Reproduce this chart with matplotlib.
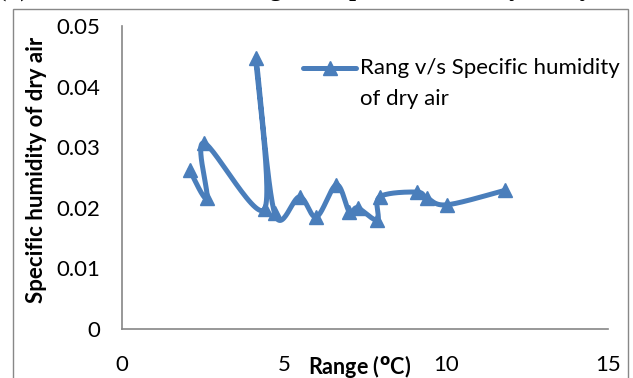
import numpy as np
import matplotlib
matplotlib.use("Agg")
import matplotlib.pyplot as plt
from matplotlib.lines import Line2D
from matplotlib.patches import Rectangle

plt.rcParams['font.family'] = ['Lato', 'DejaVu Sans']

# Data
range_c = [2.09, 2.62, 2.53, 4.40, 4.13, 4.71, 5.48, 6.00, 6.62, 7.02,
           7.27, 7.88, 7.95, 9.09, 9.42, 10.04, 11.83]
spec_hum = [0.0262, 0.0216, 0.0307, 0.0198, 0.0447, 0.0191, 0.0218, 0.0185,
            0.0238, 0.0193, 0.0200, 0.0180, 0.0218, 0.0226, 0.0216, 0.0205,
            0.0229]
x_ticks = [0, 5, 10, 15]
y_ticks = [0, 0.01, 0.02, 0.03, 0.04, 0.05]
y_tick_labels = ['0', '0.01', '0.02', '0.03', '0.04', '0.05']
series_label = 'Rang v/s Specific humidity\nof dry air'

W, H = 633, 378
fig = plt.figure(figsize=(W / 100, H / 100), dpi=100)
ax = fig.add_axes([122 / W, (H - 329) / H, (608 - 122) / W, (329 - 26) / H])
ax.set_xlim(0, 15)
ax.set_ylim(0, 0.05)

color = '#4A7EBB'


def smooth(xs, ys, xr, yr, n=30):
    # Excel-like smoothed line (Catmull-Rom Bezier) computed in normalised screen space
    sx = 486 / xr
    sy = 303 / yr
    P = np.column_stack([np.asarray(xs) * sx, np.asarray(ys) * sy])
    out = []
    m = len(P)
    for i in range(m - 1):
        p0 = P[max(i - 1, 0)]
        p1 = P[i]
        p2 = P[i + 1]
        p3 = P[min(i + 2, m - 1)]
        c1 = p1 + (p2 - p0) / 6
        c2 = p2 - (p3 - p1) / 6
        t = np.linspace(0, 1, n)[:, None]
        seg = ((1 - t) ** 3) * p1 + 3 * ((1 - t) ** 2) * t * c1 + 3 * (1 - t) * t ** 2 * c2 + t ** 3 * p2
        out.append(seg if i == 0 else seg[1:])
    C = np.vstack(out)
    return C[:, 0] / sx, C[:, 1] / sy


cx, cy = smooth(range_c, spec_hum, 15, 0.05)
ax.plot(cx, cy, color=color, lw=3.6, solid_capstyle='round', solid_joinstyle='round', zorder=2)
ax.plot(range_c, spec_hum, linestyle='none', marker='^', markersize=9.5,
        color=color, zorder=3)

for s in ['top', 'right']:
    ax.spines[s].set_visible(False)
for s in ['left', 'bottom']:
    ax.spines[s].set_color('#868686')
    ax.spines[s].set_linewidth(1.2)

ax.set_xticks(x_ticks)
ax.set_xticklabels([str(v) for v in x_ticks])
ax.set_yticks(y_ticks)
ax.set_yticklabels(y_tick_labels)
ax.tick_params(axis='both', length=0, labelsize=16, colors='black')
ax.tick_params(axis='x', pad=19)
ax.tick_params(axis='y', pad=16)

fig.text(360 / W, 1 - 366 / H, r'Range ($\mathbf{^{o}}$C)', ha='center', va='center',
         fontsize=15.5, fontweight='bold')
fig.text(37 / W, 1 - 170 / H, 'Specific humidity of dry air', rotation=90,
         ha='center', va='center', fontsize=16, fontweight='bold')

# legend (handle aligned with the first text line, as in the reference)
handle = Line2D([303 / W, 356 / W], [1 - 68 / H, 1 - 68 / H], transform=fig.transFigure,
                color=color, lw=3.6, solid_capstyle='round')
mark = Line2D([329.5 / W], [1 - 68 / H], transform=fig.transFigure, color=color,
              marker='^', markersize=9.5, linestyle='none')
fig.lines.extend([handle, mark])
fig.text(360 / W, 1 - 58 / H, series_label, ha='left', va='top', fontsize=16,
         linespacing=1.7)

# outer chart frame
fig.patches.append(Rectangle((13 / W, -0.1), (628 - 13) / W, 1.1 - 9 / H,
                             transform=fig.transFigure, fill=False,
                             edgecolor='#888888', lw=1.0))
# truncated caption above the chart (only the descenders are visible)
fig.text(-2 / W, 1 + 4 / H, '(d) Relation between Range v/s Specific humidity of dry air',
         ha='left', va='baseline', fontsize=18, fontweight='bold',
         family=['Liberation Serif'])

fig.savefig('out.png', dpi=100)
